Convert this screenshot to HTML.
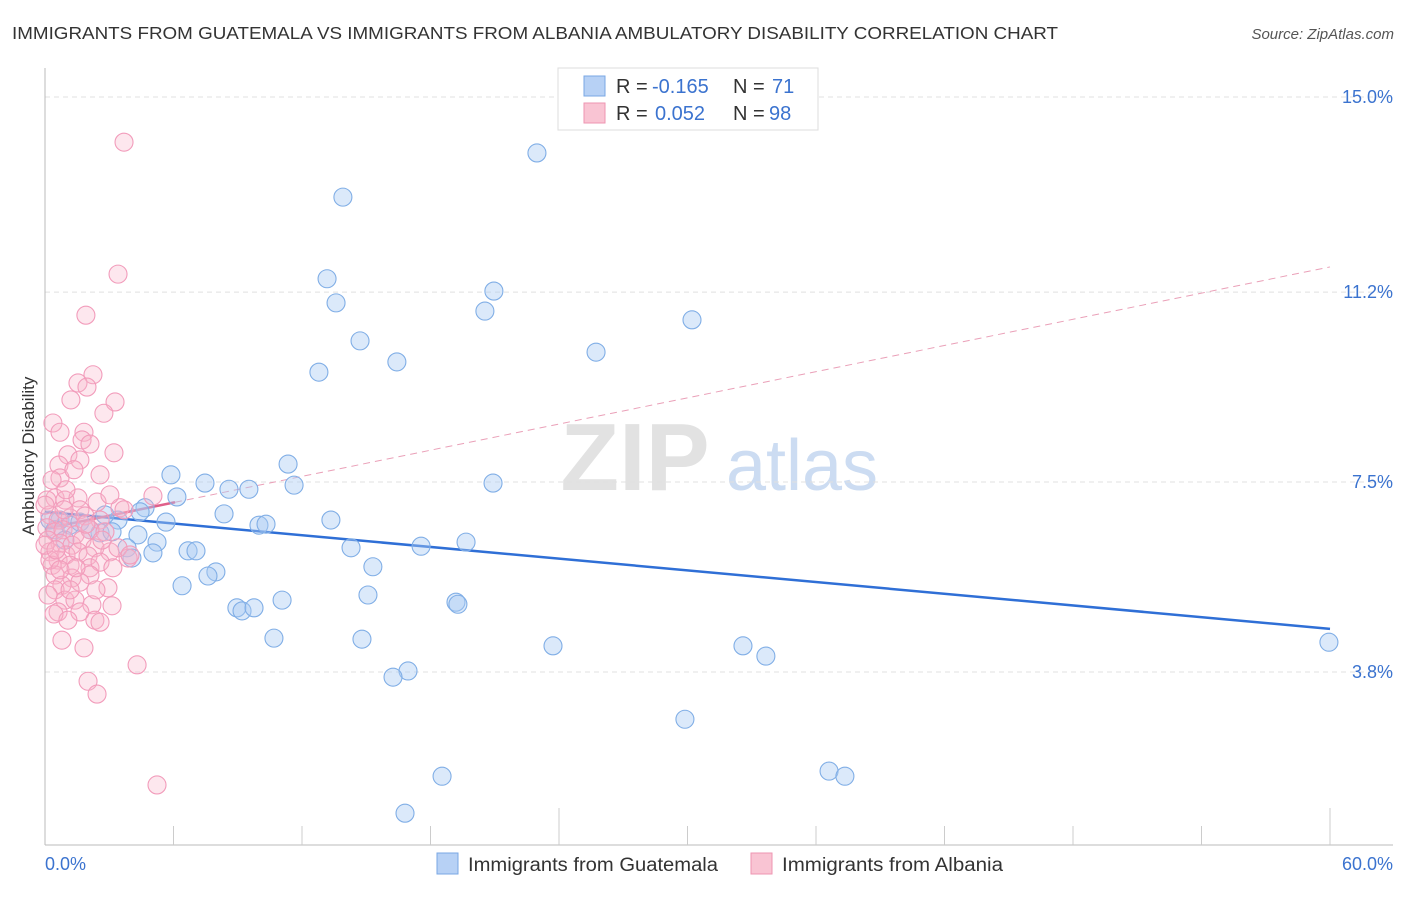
<!DOCTYPE html>
<html><head><meta charset="utf-8"><style>
body{margin:0;background:#fff;font-family:"Liberation Sans",sans-serif;}
svg text{font-family:"Liberation Sans",sans-serif;}
</style></head><body>
<svg id="chart" width="1406" height="892" xmlns="http://www.w3.org/2000/svg">
<text x="12" y="39" font-size="17.5" fill="#333" textLength="1046" lengthAdjust="spacingAndGlyphs">IMMIGRANTS FROM GUATEMALA VS IMMIGRANTS FROM ALBANIA AMBULATORY DISABILITY CORRELATION CHART</text>
<text x="1394" y="39" font-size="15" fill="#555" text-anchor="end" font-style="italic">Source: ZipAtlas.com</text>
<g>
<text x="635" y="490" font-size="96" fill="#e2e2e2" text-anchor="middle" font-family="Liberation Serif" font-weight="bold">ZIP</text>
<text x="802" y="490" font-size="72" fill="#ccdcf2" text-anchor="middle">atlas</text>
</g>
<text transform="translate(34,456) rotate(-90)" font-size="17" fill="#333" text-anchor="middle">Ambulatory Disability</text>
<g id="grid"></g><g id="axes"></g><g id="trend"></g><g id="pts"></g>
<g>
<rect x="558" y="68" width="260" height="62" fill="#fff" stroke="#ddd"/>
<rect x="584" y="76" width="21" height="20" fill="#b7d1f5" stroke="#7aa7e4"/>
<rect x="584" y="103" width="21" height="20" fill="#f9c4d3" stroke="#ee95b2"/>
<text x="616" y="93" font-size="20" fill="#333">R =</text>
<text x="652" y="93" font-size="20" fill="#3b73cf">-0.165</text>
<text x="733" y="93" font-size="20" fill="#333">N =</text>
<text x="772" y="93" font-size="20" fill="#3b73cf">71</text>
<text x="616" y="120" font-size="20" fill="#333">R =</text>
<text x="655" y="120" font-size="20" fill="#3b73cf">0.052</text>
<text x="733" y="120" font-size="20" fill="#333">N =</text>
<text x="769" y="120" font-size="20" fill="#3b73cf">98</text>
</g>
<g>
<rect x="437" y="853" width="21" height="21" fill="#b7d1f5" stroke="#7aa7e4"/>
<text x="468" y="871" font-size="19" fill="#333" textLength="250" lengthAdjust="spacingAndGlyphs">Immigrants from Guatemala</text>
<rect x="751" y="853" width="21" height="21" fill="#f9c4d3" stroke="#ee95b2"/>
<text x="782" y="871" font-size="19" fill="#333" textLength="221" lengthAdjust="spacingAndGlyphs">Immigrants from Albania</text>
</g>
</svg>
<script>
const blueX=[22.97,13.91,13.17,20.96,13.59,20.54,30.21,14.71,25.73,16.43,12.79,11.35,5.88,7.47,11.63,20.92,8.59,9.52,6.16,4.67,8.36,3.41,5.65,13.35,9.99,10.32,0.70,2.57,3.13,4.34,5.23,19.66,17.56,14.29,3.83,5.04,6.68,7.05,4.06,15.31,7.98,7.61,6.40,15.08,11.07,8.96,9.20,9.76,19.19,19.28,10.69,14.80,23.72,32.59,33.66,59.95,16.95,16.25,29.88,18.54,36.61,37.35,16.81,0.23,0.47,1.17,1.63,2.10,0.93,4.44,2.80];
const blueY=[13.91,13.05,11.46,11.22,10.99,10.83,10.66,10.25,10.03,9.84,9.64,7.85,7.64,7.48,7.44,7.48,7.36,7.36,7.21,7.00,6.88,6.76,6.72,6.76,6.66,6.68,6.76,6.51,6.53,6.47,6.33,6.33,6.25,6.22,6.22,6.12,6.16,6.16,6.02,5.85,5.75,5.67,5.48,5.30,5.20,5.05,4.99,5.05,5.16,5.12,4.46,4.44,4.31,4.31,4.11,4.38,3.82,3.70,2.88,1.77,1.87,1.77,1.05,6.76,6.57,6.66,6.72,6.57,6.37,6.92,6.86];
const pinkX=[3.69,3.41,1.91,2.24,1.54,1.96,1.21,3.27,2.75,0.37,0.70,1.82,1.73,2.10,3.22,1.07,1.63,0.65,2.57,0.70,5.04,0.47,0.93,1.54,2.43,3.50,1.63,0.23,0.61,1.17,1.87,2.57,0.09,0.47,0.84,1.40,2.10,2.80,0.14,0.70,1.26,1.73,2.33,3.03,0.23,0.98,1.54,2.01,0.61,1.17,3.88,0.33,2.10,2.57,3.17,0.47,1.26,2.10,0.79,1.63,2.94,0.47,0.93,1.40,2.19,3.13,0.61,1.63,2.33,2.57,0.42,1.82,4.30,2.01,2.43,5.23,0.09,0.23,1.17,0.70,0.00,0.89,1.91,2.66,3.41,3.97,1.45,2.38,1.07,0.14,0.79,1.35,3.03,3.69,0.33,0.98,0.00,0.51];
const pinkY=[14.12,11.55,10.75,9.59,9.43,9.35,9.10,9.06,8.84,8.65,8.47,8.47,8.32,8.24,8.07,8.03,7.93,7.83,7.64,7.58,7.23,7.19,7.15,7.19,7.11,7.00,6.96,6.86,6.76,6.80,6.84,6.76,6.61,6.53,6.57,6.47,6.57,6.53,6.37,6.31,6.27,6.37,6.22,6.14,6.14,6.08,6.14,6.06,5.98,5.88,6.02,5.88,5.83,5.94,5.83,5.69,5.63,5.69,5.49,5.55,5.44,5.40,5.20,5.20,5.11,5.09,4.97,4.97,4.81,4.77,4.93,4.27,3.94,3.62,3.37,1.60,7.15,5.98,5.40,5.79,6.27,6.96,6.68,6.37,6.22,6.08,5.83,5.40,4.81,5.30,4.42,7.74,7.25,6.96,7.54,7.35,7.05,6.18];
const yTicks=[15.0,11.2,7.5,3.8];
const yTickLabels=["15.0%","11.2%","7.5%","3.8%"];
const xTickLabels=["0.0%","60.0%"];
const blueTrend=[6.92,4.64];
const pinkTrend=[6.59,11.69];
const pinkSolidEnd=6.07;
const NS="http://www.w3.org/2000/svg";
const X=v=>45+v/60*1285, Y=v=>97+(15-v)*51.34;
function mk(tag,attrs,parent){const e=document.createElementNS(NS,tag);for(const k in attrs)e.setAttribute(k,attrs[k]);document.getElementById(parent).appendChild(e);return e;}
yTicks.forEach((t,i)=>{
 const g=mk('line',{x1:45,x2:1393,y1:Y(t),y2:Y(t),stroke:'#e0e0e0','stroke-dasharray':'5,4'},'grid');
 
 
 const l=mk('text',{x:1393,y:Y(t)+6,'font-size':18,fill:'#3b73cf','text-anchor':'end'},'grid');
 l.textContent=yTickLabels[i];
 
 
});
const ax=mk('line',{x1:45,x2:1393,y1:845,y2:845,stroke:'#bbb'},'axes');


const ay=mk('line',{x1:45,x2:45,y1:68,y2:845,stroke:'#bbb'},'axes');


for(let i=1;i<=10;i++){const t=mk('line',{x1:X(i*6),x2:X(i*6),y1:(i==4||i==10)?808:826,y2:845,stroke:'#ccc'},'axes');
 
 }
[[0,'start',45],[1,'end',1393]].forEach(([i,a,x])=>{const t=mk('text',{x:x,y:870,'font-size':18,fill:'#3b73cf','text-anchor':a},'axes');t.textContent=xTickLabels[i];
 
 });
blueX.forEach((v,i)=>{const c=mk('circle',{cx:X(v),cy:Y(blueY[i]),r:9,fill:'rgba(170,202,242,0.42)',stroke:'#80aee6','stroke-width':1.1},'pts');
 
 });
pinkX.forEach((v,i)=>{const c=mk('circle',{cx:X(v),cy:Y(pinkY[i]),r:9,fill:'rgba(249,180,202,0.32)',stroke:'#f29cbb','stroke-width':1.1},'pts');
 
 });
const pAt=v=>pinkTrend[0]+(pinkTrend[1]-pinkTrend[0])*v/60;
const bl=mk('line',{x1:X(0),y1:Y(blueTrend[0]),x2:X(60),y2:Y(blueTrend[1]),stroke:'#2f6fd6','stroke-width':2.5},'trend');


const pd=mk('line',{x1:X(pinkSolidEnd),y1:Y(pAt(pinkSolidEnd)),x2:X(60),y2:Y(pinkTrend[1]),stroke:'#eaa0b8','stroke-width':1,'stroke-dasharray':'7,5'},'trend');


const ps=mk('line',{x1:X(0),y1:Y(pinkTrend[0]),x2:X(pinkSolidEnd),y2:Y(pAt(pinkSolidEnd)),stroke:'#e0608a','stroke-width':2.5},'trend');


</script>
</body></html>
